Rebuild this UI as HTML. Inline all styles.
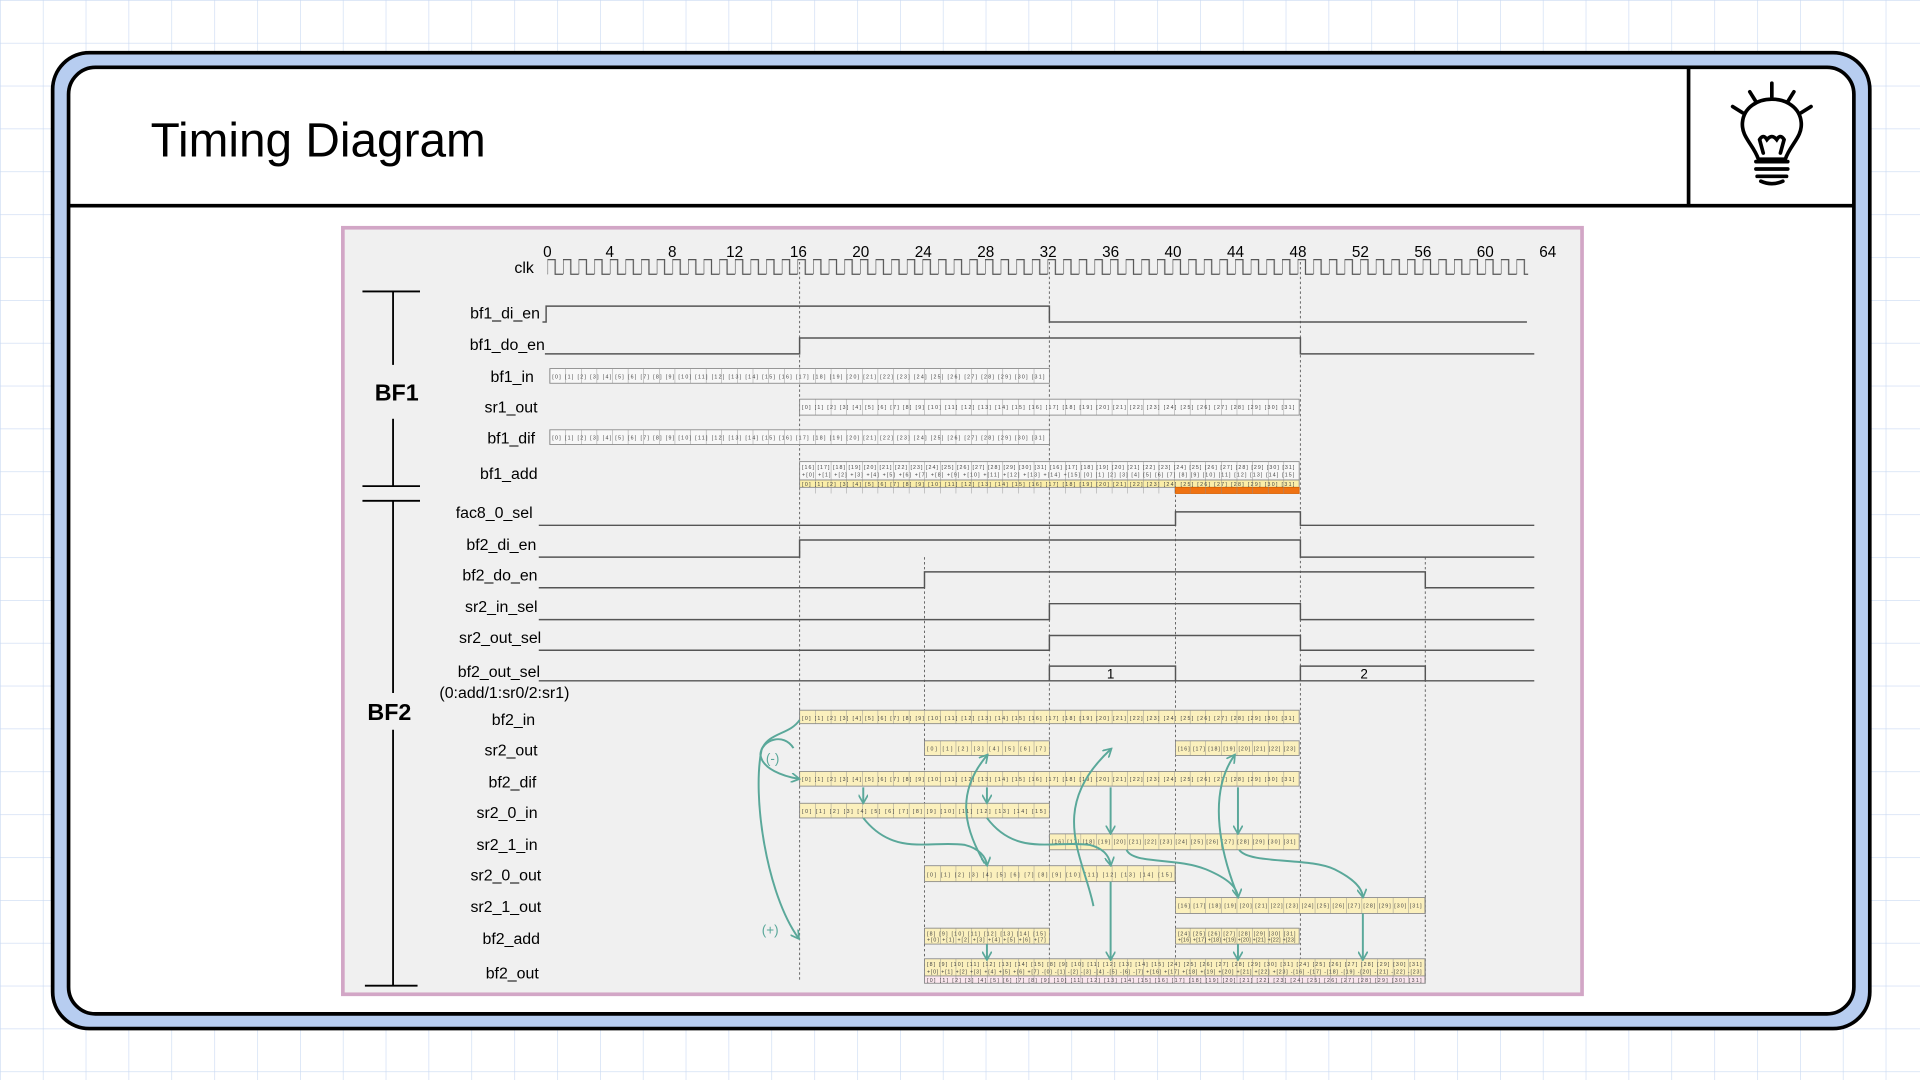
<!DOCTYPE html>
<html><head><meta charset="utf-8"><style>
html,body{margin:0;padding:0;background:#fff}
svg{display:block}
text{font-family:"Liberation Sans",sans-serif}
</style></head><body>
<svg width="1920" height="1080" viewBox="0 0 1568 882" xmlns="http://www.w3.org/2000/svg">
<defs>
<pattern id="grid" x="0" y="0" width="35" height="35" patternUnits="userSpaceOnUse">
<path d="M0,0H35M0,0V35" stroke="#c9d9f2" stroke-width="1" fill="none"/>
</pattern>
<pattern id="clk" x="447" y="0" width="12.766" height="882" patternUnits="userSpaceOnUse">
<path d="M0,224V212H6.38V224H12.766" stroke="#555" stroke-width="1" fill="none"/>
</pattern>
<pattern id="cells" x="449" y="0" width="12.75" height="882" patternUnits="userSpaceOnUse">
<path d="M0,0V882" stroke="#8a8a8a" stroke-width="0.7"/>
</pattern>
<marker id="ar" markerWidth="8" markerHeight="8" refX="6" refY="4" orient="auto" markerUnits="userSpaceOnUse">
<path d="M0,0L7,4L0,8" fill="none" stroke="#5aa89a" stroke-width="1.4"/>
</marker>
</defs>
<rect width="1568" height="882" fill="#fff"/>
<rect width="1568" height="882" fill="url(#grid)"/>
<!-- frame -->
<rect x="43" y="43" width="1484" height="797" rx="30" fill="#b7cdf0" stroke="#000" stroke-width="3"/>
<rect x="56" y="55" width="1458" height="773" rx="22" fill="#fff" stroke="#000" stroke-width="3"/>
<line x1="56" y1="168" x2="1514" y2="168" stroke="#000" stroke-width="3"/>
<line x1="1379" y1="55" x2="1379" y2="168" stroke="#000" stroke-width="3"/>
<text x="123" y="128" font-size="39" fill="#000">Timing Diagram</text>
<!-- bulb -->
<g stroke="#000" stroke-width="3" fill="none" stroke-linecap="round">
<line x1="1447" y1="68" x2="1447" y2="79"/><line x1="1429" y1="75" x2="1434" y2="83"/><line x1="1465" y1="75" x2="1460" y2="83"/>
<line x1="1415" y1="87" x2="1423" y2="92"/><line x1="1479" y1="87" x2="1471" y2="92"/>
<path d="M1436,130 C1432,118 1422,112 1423,100 C1424,88 1435,81 1447,81 C1459,81 1470,88 1471,100 C1472,112 1462,118 1458,130 Z"/>
<path d="M1440,125 L1437,114 M1454,125 L1457,114 M1437,114 q3,-5 6,0 q4,-5 8,0 q3,-5 6,0"/>
<line x1="1434" y1="132" x2="1460" y2="132"/><line x1="1434" y1="138" x2="1460" y2="138"/><line x1="1435" y1="144" x2="1459" y2="144"/>
<path d="M1438,148 Q1447,152 1456,148"/>
</g>
<!-- panel -->
<rect x="280" y="186" width="1012" height="626" fill="#f0f0f0" stroke="#d2a6c6" stroke-width="3"/>
<!-- dashed guides -->
<g stroke="#666" stroke-width="0.8" stroke-dasharray="2,2">
<line x1="653" y1="214" x2="653" y2="800"/>
<line x1="857" y1="214" x2="857" y2="800"/>
<line x1="1062" y1="214" x2="1062" y2="800"/>
<line x1="960" y1="380" x2="960" y2="800"/>
<line x1="755" y1="455" x2="755" y2="800"/>
<line x1="1164" y1="455" x2="1164" y2="800"/>
</g>
<!-- clk -->
<text x="436" y="223" font-size="13" text-anchor="end">clk</text>
<rect x="447" y="210" width="801" height="16" fill="url(#clk)"/>
<g font-size="12.5" text-anchor="middle">
<text x="447" y="210">0</text><text x="498" y="210">4</text><text x="549" y="210">8</text><text x="600" y="210">12</text>
<text x="652" y="210">16</text><text x="703" y="210">20</text><text x="754" y="210">24</text><text x="805" y="210">28</text>
<text x="856" y="210">32</text><text x="907" y="210">36</text><text x="958" y="210">40</text><text x="1009" y="210">44</text>
<text x="1060" y="210">48</text><text x="1111" y="210">52</text><text x="1162" y="210">56</text><text x="1213" y="210">60</text><text x="1264" y="210">64</text>
</g>
<!-- brackets -->
<g stroke="#000" stroke-width="1.5">
<line x1="296" y1="238" x2="343" y2="238"/><line x1="321" y1="238" x2="321" y2="298"/><line x1="321" y1="342" x2="321" y2="397"/><line x1="296" y1="397" x2="343" y2="397"/>
<line x1="296" y1="409" x2="343" y2="409"/><line x1="321" y1="409" x2="321" y2="566"/><line x1="321" y1="596" x2="321" y2="805"/><line x1="298" y1="805" x2="341" y2="805"/>
</g>
<text x="324" y="327" font-size="19" font-weight="bold" text-anchor="middle">BF1</text>
<text x="318" y="588" font-size="19" font-weight="bold" text-anchor="middle">BF2</text>
<!-- labels -->
<g font-size="13" text-anchor="end">
<text x="441" y="260">bf1_di_en</text><text x="445" y="286">bf1_do_en</text><text x="436" y="312">bf1_in</text>
<text x="439" y="337">sr1_out</text><text x="437" y="362">bf1_dif</text><text x="439" y="391">bf1_add</text>
<text x="435" y="423">fac8_0_sel</text><text x="438" y="449">bf2_di_en</text><text x="439" y="474">bf2_do_en</text>
<text x="439" y="500">sr2_in_sel</text><text x="442" y="525">sr2_out_sel</text><text x="441" y="553">bf2_out_sel</text>
<text x="465" y="570">(0:add/1:sr0/2:sr1)</text>
<text x="437" y="592">bf2_in</text><text x="439" y="617">sr2_out</text><text x="438" y="643">bf2_dif</text>
<text x="439" y="668">sr2_0_in</text><text x="439" y="694">sr2_1_in</text><text x="442" y="719">sr2_0_out</text>
<text x="442" y="745">sr2_1_out</text><text x="441" y="771">bf2_add</text><text x="440" y="799">bf2_out</text>
</g>
<!-- level signals -->
<g stroke="#555" stroke-width="1.2" fill="none">
<path d="M443,263H446V250H857V263H1247"/>
<path d="M445,289H653V276H1062V289H1253"/>
<path d="M440,429H960V418H1062V429H1253"/>
<path d="M440,455H653V441H1062V455H1253"/>
<path d="M440,480H755V467H1164V480H1253"/>
<path d="M440,506H857V493H1062V506H1253"/>
<path d="M440,531H857V519H1062V531H1253"/>
<path d="M440,556H1253"/>
<path d="M857,556V544H960V556M1062,556V544H1164V556"/>
</g>
<text x="907" y="554" font-size="11" text-anchor="middle">1</text>
<text x="1114" y="554" font-size="11" text-anchor="middle">2</text>
<!-- BF1 bus rows -->
<g stroke="#888" stroke-width="0.7">
<rect x="449" y="301" width="408" height="12" fill="#f7f7f7"/>
<rect x="653" y="326" width="408" height="13" fill="#f7f7f7"/>
<rect x="449" y="351" width="408" height="12" fill="#f7f7f7"/>
<rect x="653" y="377" width="408" height="15" fill="#f7f7f7"/>
<rect x="653" y="392" width="408" height="6" fill="#fbeea8"/>
<rect x="960" y="398" width="101" height="5" fill="#ef7212" stroke="#d86000"/>
<!-- BF2 -->
<rect x="653" y="580" width="408" height="11" fill="#fbf0bd"/>
<rect x="755" y="605" width="102" height="12" fill="#fbf0bd"/>
<rect x="960" y="605" width="101" height="12" fill="#fbf0bd"/>
<rect x="653" y="630" width="408" height="12" fill="#fbf0bd"/>
<rect x="653" y="656" width="204" height="12" fill="#fbf0bd"/>
<rect x="857" y="681" width="204" height="13" fill="#fbf0bd"/>
<rect x="755" y="707" width="205" height="13" fill="#fbf0bd"/>
<rect x="960" y="733" width="204" height="13" fill="#fbf0bd"/>
<rect x="755" y="758" width="102" height="13" fill="#fbf0bd"/>
<rect x="960" y="758" width="101" height="13" fill="#fbf0bd"/>
<rect x="755" y="783" width="409" height="14" fill="#fbf0bd"/>
<rect x="755" y="797" width="409" height="6" fill="#fbe6ee"/>
</g>
<g fill="url(#cells)">
<rect x="449" y="301" width="408" height="12"/><rect x="653" y="326" width="408" height="13"/>
<rect x="449" y="351" width="408" height="12"/><rect x="653" y="377" width="408" height="26"/>
<rect x="653" y="580" width="408" height="11"/><rect x="755" y="605" width="102" height="12"/><rect x="960" y="605" width="101" height="12"/>
<rect x="653" y="630" width="408" height="12"/><rect x="653" y="656" width="204" height="12"/><rect x="857" y="681" width="204" height="13"/>
<rect x="755" y="707" width="205" height="13"/><rect x="960" y="733" width="204" height="13"/>
<rect x="755" y="758" width="102" height="13"/><rect x="960" y="758" width="101" height="13"/><rect x="755" y="783" width="409" height="20"/>
</g>
<g font-size="4.3" fill="#444" lengthAdjust="spacing">
<text x="451" y="309" textLength="402">[0] [1] [2] [3] [4] [5] [6] [7] [8] [9] [10] [11] [12] [13] [14] [15] [16] [17] [18] [19] [20] [21] [22] [23] [24] [25] [26] [27] [28] [29] [30] [31]</text>
<text x="655" y="334" textLength="402">[0] [1] [2] [3] [4] [5] [6] [7] [8] [9] [10] [11] [12] [13] [14] [15] [16] [17] [18] [19] [20] [21] [22] [23] [24] [25] [26] [27] [28] [29] [30] [31]</text>
<text x="451" y="359" textLength="402">[0] [1] [2] [3] [4] [5] [6] [7] [8] [9] [10] [11] [12] [13] [14] [15] [16] [17] [18] [19] [20] [21] [22] [23] [24] [25] [26] [27] [28] [29] [30] [31]</text>
<text x="655" y="383" textLength="402">[16] [17] [18] [19] [20] [21] [22] [23] [24] [25] [26] [27] [28] [29] [30] [31] [16] [17] [18] [19] [20] [21] [22] [23] [24] [25] [26] [27] [28] [29] [30] [31]</text>
<text x="655" y="389" textLength="402">+[0] +[1] +[2] +[3] +[4] +[5] +[6] +[7] +[8] +[9] +[10] +[11] +[12] +[13] +[14] +[15] [0] [1] [2] [3] [4] [5] [6] [7] [8] [9] [10] [11] [12] [13] [14] [15]</text>
<text x="655" y="397" textLength="402">[0] [1] [2] [3] [4] [5] [6] [7] [8] [9] [10] [11] [12] [13] [14] [15] [16] [17] [18] [19] [20] [21] [22] [23] [24] [25] [26] [27] [28] [29] [30] [31]</text>
<text x="655" y="588" textLength="402">[0] [1] [2] [3] [4] [5] [6] [7] [8] [9] [10] [11] [12] [13] [14] [15] [16] [17] [18] [19] [20] [21] [22] [23] [24] [25] [26] [27] [28] [29] [30] [31]</text>
<text x="757" y="613" textLength="97">[0] [1] [2] [3] [4] [5] [6] [7]</text>
<text x="962" y="613" textLength="96">[16] [17] [18] [19] [20] [21] [22] [23]</text>
<text x="655" y="638" textLength="402">[0] [1] [2] [3] [4] [5] [6] [7] [8] [9] [10] [11] [12] [13] [14] [15] [16] [17] [18] [19] [20] [21] [22] [23] [24] [25] [26] [27] [28] [29] [30] [31]</text>
<text x="655" y="664" textLength="199">[0] [1] [2] [3] [4] [5] [6] [7] [8] [9] [10] [11] [12] [13] [14] [15]</text>
<text x="859" y="689" textLength="199">[16] [17] [18] [19] [20] [21] [22] [23] [24] [25] [26] [27] [28] [29] [30] [31]</text>
<text x="757" y="716" textLength="200">[0] [1] [2] [3] [4] [5] [6] [7] [8] [9] [10] [11] [12] [13] [14] [15]</text>
<text x="962" y="741" textLength="199">[16] [17] [18] [19] [20] [21] [22] [23] [24] [25] [26] [27] [28] [29] [30] [31]</text>
<text x="757" y="764" textLength="97">[8] [9] [10] [11] [12] [13] [14] [15]</text>
<text x="757" y="769" textLength="97">+[0] +[1] +[2] +[3] +[4] +[5] +[6] +[7]</text>
<text x="962" y="764" textLength="96">[24] [25] [26] [27] [28] [29] [30] [31]</text>
<text x="962" y="769" textLength="96">+[16] +[17] +[18] +[19] +[20] +[21] +[22] +[23]</text>
<text x="757" y="789" textLength="404">[8] [9] [10] [11] [12] [13] [14] [15] [8] [9] [10] [11] [12] [13] [14] [15] [24] [25] [26] [27] [28] [29] [30] [31] [24] [25] [26] [27] [28] [29] [30] [31]</text>
<text x="757" y="795" textLength="404">+[0] +[1] +[2] +[3] +[4] +[5] +[6] +[7] -[0] -[1] -[2] -[3] -[4] -[5] -[6] -[7] +[16] +[17] +[18] +[19] +[20] +[21] +[22] +[23] -[16] -[17] -[18] -[19] -[20] -[21] -[22] -[23]</text>
<text x="757" y="802" textLength="404">[0] [1] [2] [3] [4] [5] [6] [7] [8] [9] [10] [11] [12] [13] [14] [15] [16] [17] [18] [19] [20] [21] [22] [23] [24] [25] [26] [27] [28] [29] [30] [31]</text>
</g>
<!-- arrows -->
<g stroke="#5aa89a" stroke-width="1.6" fill="none" marker-end="url(#ar)">
<path d="M653,588 C645,600 628,598 622,612 C614,650 626,730 652,766" marker-end="url(#ar)"/>
<path d="M648,611 C640,598 622,604 621,616 C622,628 640,634 652,636"/>
<path d="M705,643V655"/><path d="M806,643V655"/>
<path d="M705,668 C730,700 760,686 788,690 C800,693 805,700 806,706"/>
<path d="M806,668 C830,700 860,686 890,690 C902,693 906,700 907,706"/>
<path d="M804,705 C790,680 778,650 806,617"/>
<path d="M893,740 C885,700 855,660 907,612"/>
<path d="M907,643V680"/><path d="M1011,643V680"/>
<path d="M920,694 C925,706 960,700 985,710 C1004,718 1010,725 1011,732"/>
<path d="M1012,694 C1020,706 1070,700 1090,710 C1106,718 1112,725 1113,732"/>
<path d="M1011,732 C998,700 985,650 1008,617"/>
<path d="M806,771V783"/><path d="M907,720V783"/><path d="M1011,771V783"/><path d="M1113,746V783"/>
</g>
<text x="631" y="623" font-size="11" fill="#5aa89a" text-anchor="middle">(-)</text>
<text x="629" y="763" font-size="11" fill="#5aa89a" text-anchor="middle">(+)</text>
</svg>
</body></html>
